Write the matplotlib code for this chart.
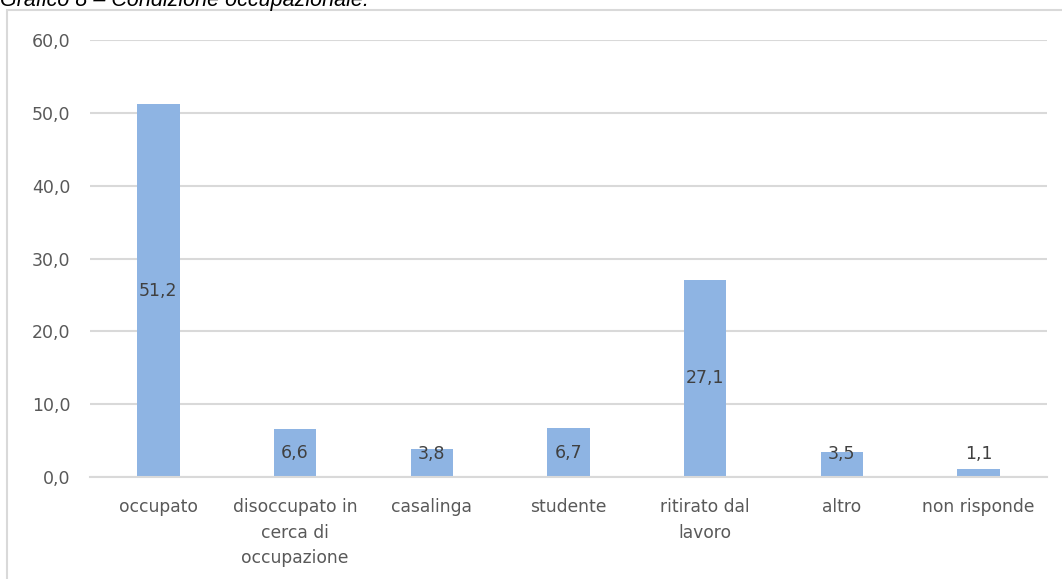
import matplotlib.pyplot as plt
from matplotlib.patches import Rectangle

categorie = ['occupato', 'disoccupato in\ncerca di\noccupazione', 'casalinga',
             'studente', 'ritirato dal\nlavoro', 'altro', 'non risponde']
valori = [51.2, 6.6, 3.8, 6.7, 27.1, 3.5, 1.1]
yticks = [0, 10, 20, 30, 40, 50, 60]

W, H = 1062, 579
fig = plt.figure(figsize=(W / 100, H / 100), dpi=100)

# cornice del grafico (tagliata a destra e in basso)
fig.patches.append(Rectangle((7 / W, -0.1), 1.2, 1.1 - 10 / H, transform=fig.transFigure,
                             fill=False, edgecolor='#d9d9d9', linewidth=1.5))
fig.text(0.0, 1 - 6 / H, 'Grafico 8 – Condizione occupazionale.', style='italic',
         family='Liberation Sans', fontsize=15.5, va='baseline', ha='left', color='black')

ax = fig.add_axes([90 / W, 1 - 477 / H, (1047 - 90) / W, (477 - 40) / H])
x = list(range(len(categorie)))
ax.bar(x, valori, width=0.31, color='#8eb4e3', zorder=2)

for xi, v in zip(x, valori):
    ax.text(xi, max(v / 2, 3.1), f'{v:.1f}'.replace('.', ','), ha='center', va='center',
            fontsize=12.5, color='#404040', zorder=3)

ax.set_xlim(-0.5, len(categorie) - 0.5)
ax.set_ylim(0, 60)
ax.set_yticks(yticks)
ax.set_yticklabels([f'{t:.1f}'.replace('.', ',') for t in yticks])
ax.set_xticks(x)
ax.set_xticklabels(categorie, linespacing=1.55)
ax.tick_params(axis='y', length=0, pad=14, labelsize=12.5, labelcolor='#595959')
ax.tick_params(axis='x', length=0, pad=15, labelsize=12.3, labelcolor='#595959')
ax.grid(axis='y', color='#d9d9d9', linewidth=1.5, zorder=0)
for s in ['top', 'right', 'left']:
    ax.spines[s].set_visible(False)
ax.spines['bottom'].set_color('#d9d9d9')
ax.spines['bottom'].set_linewidth(1.5)

fig.savefig('out.png', dpi=100)
